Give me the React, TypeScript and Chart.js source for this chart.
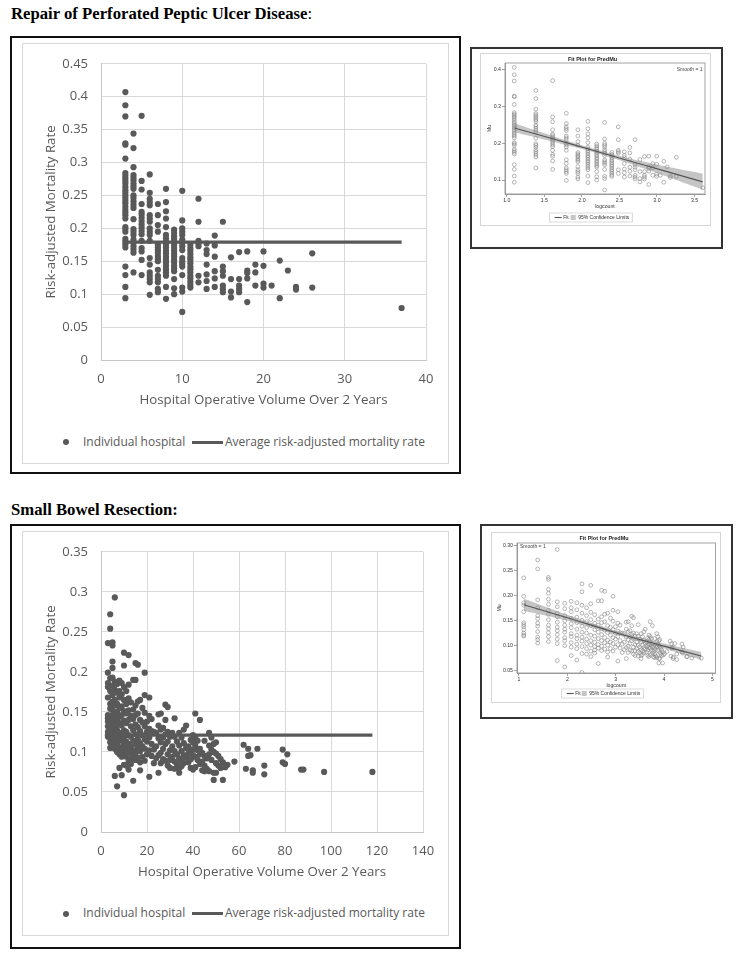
import React, { useEffect, useRef } from 'react';
import { Chart, registerables } from 'chart.js';

Chart.register(...registerables);

const FONT = "'Open Sans', sans-serif";
const SAS_FONT = "'Liberation Sans', Arial, sans-serif";
const INK = '#595959';

// ---------------- Repair of Perforated Peptic Ulcer Disease ----------------
const ulcerVolumes = [3, 4, 5, 6, 7, 8, 9, 10, 11, 12, 13, 14, 15, 16, 17, 18, 19, 20, 21, 22, 23, 24, 26, 37];
const ulcerRates = [
  [0.407, 0.387, 0.370, 0.329, 0.327, 0.306, 0.284, 0.280, 0.276, 0.272, 0.268, 0.263, 0.258, 0.254, 0.250, 0.246, 0.242, 0.238, 0.233, 0.228, 0.224, 0.220, 0.215, 0.202, 0.199, 0.195, 0.184, 0.180, 0.176, 0.171, 0.142, 0.129, 0.111, 0.094],
  [0.344, 0.322, 0.293, 0.281, 0.277, 0.273, 0.268, 0.264, 0.260, 0.250, 0.246, 0.241, 0.236, 0.231, 0.214, 0.199, 0.195, 0.190, 0.183, 0.178, 0.173, 0.168, 0.163, 0.133],
  [0.371, 0.272, 0.259, 0.237, 0.225, 0.221, 0.216, 0.211, 0.206, 0.201, 0.196, 0.191, 0.181, 0.170, 0.165, 0.152, 0.129],
  [0.282, 0.254, 0.245, 0.240, 0.235, 0.220, 0.215, 0.210, 0.200, 0.195, 0.190, 0.181, 0.155, 0.145, 0.133, 0.128, 0.123, 0.118, 0.099],
  [0.237, 0.220, 0.205, 0.195, 0.175, 0.171, 0.167, 0.163, 0.158, 0.154, 0.150, 0.137, 0.128, 0.123, 0.118, 0.108, 0.103],
  [0.260, 0.240, 0.226, 0.215, 0.202, 0.190, 0.185, 0.180, 0.176, 0.171, 0.166, 0.162, 0.157, 0.152, 0.148, 0.143, 0.138, 0.133, 0.128, 0.111, 0.093],
  [0.198, 0.193, 0.188, 0.184, 0.179, 0.175, 0.170, 0.166, 0.161, 0.157, 0.152, 0.148, 0.143, 0.139, 0.135, 0.123, 0.109, 0.100],
  [0.257, 0.212, 0.200, 0.195, 0.190, 0.183, 0.178, 0.173, 0.167, 0.155, 0.150, 0.146, 0.142, 0.129, 0.110, 0.104, 0.073],
  [0.175, 0.170, 0.166, 0.161, 0.156, 0.152, 0.147, 0.142, 0.138, 0.133, 0.128, 0.124, 0.119, 0.114, 0.110],
  [0.245, 0.210, 0.181, 0.177, 0.173, 0.128, 0.118],
  [0.177, 0.167, 0.161, 0.145, 0.130, 0.120, 0.108],
  [0.189, 0.174, 0.157, 0.135, 0.124, 0.111],
  [0.210, 0.142, 0.135, 0.128, 0.113, 0.108, 0.103],
  [0.156, 0.123, 0.104, 0.095],
  [0.164, 0.123, 0.113, 0.108, 0.103],
  [0.165, 0.136, 0.132, 0.124, 0.088],
  [0.145, 0.133, 0.113],
  [0.165, 0.143, 0.116, 0.110],
  [0.113],
  [0.151, 0.094],
  [0.136],
  [0.111, 0.107],
  [0.162, 0.110],
  [0.079],
];
const ulcerAverage = 0.179;
const ulcerAverageSpan = [3, 37];
const ulcerXTicks = [0, 10, 20, 30, 40];
const ulcerXLabels = ['0', '10', '20', '30', '40'];
const ulcerYTicks = [0, 0.05, 0.1, 0.15, 0.2, 0.25, 0.3, 0.35, 0.4, 0.45];
const ulcerYLabels = ['0', '0.05', '0.1', '0.15', '0.2', '0.25', '0.3', '0.35', '0.4', '0.45'];

// inset: Fit Plot for PredMu (logcount)
const ulcerFitX = [1.1, 1.6, 2.1, 2.6, 3.1, 3.61];
const ulcerFit = [0.242, 0.213, 0.184, 0.154, 0.125, 0.095];
const ulcerLower = [0.230, 0.205, 0.179, 0.147, 0.112, 0.074];
const ulcerUpper = [0.255, 0.221, 0.189, 0.161, 0.138, 0.117];
const ulcerLogRange = [0.975, 3.64];
const ulcerMuRange = [0.062, 0.419];
const ulcerLogTicks = [1, 1.5, 2, 2.5, 3, 3.5];
const ulcerLogLabels = ['1.0', '1.5', '2.0', '2.5', '3.0', '3.5'];
const ulcerMuTicks = [0.1, 0.2, 0.3, 0.4];
const ulcerMuLabels = ['0.1', '0.2', '0.3', '0.4'];

// ---------------- Small Bowel Resection ----------------
const bowelVolumes = [3, 4, 5, 6, 7, 8, 9, 10, 11, 12, 13, 14, 15, 16, 17, 18, 19, 20, 21, 22, 23, 24, 25, 26, 27, 28, 29, 30, 31, 32, 33, 34, 35, 36, 37, 38, 39, 40, 41, 42, 43, 44, 45, 46, 47, 48, 49, 50, 51, 52, 53, 54, 55, 58, 62, 63, 64, 65, 66, 68, 71, 79, 80, 81, 87, 88, 97, 118];
const bowelRates = [
  [0.236, 0.199, 0.186, 0.181, 0.168, 0.146, 0.142, 0.138, 0.132, 0.125, 0.121, 0.119],
  [0.272, 0.254, 0.192, 0.176, 0.160, 0.154, 0.145, 0.139, 0.128, 0.117, 0.112, 0.105],
  [0.237, 0.233, 0.213, 0.205, 0.193, 0.183, 0.171, 0.163, 0.152, 0.141, 0.134, 0.126, 0.118, 0.108],
  [0.293, 0.188, 0.178, 0.165, 0.158, 0.147, 0.137, 0.130, 0.122, 0.113, 0.104, 0.070],
  [0.185, 0.174, 0.160, 0.150, 0.141, 0.133, 0.127, 0.116, 0.110, 0.100, 0.057],
  [0.189, 0.176, 0.168, 0.155, 0.144, 0.136, 0.124, 0.118, 0.106, 0.097, 0.080],
  [0.186, 0.172, 0.157, 0.146, 0.133, 0.121, 0.114, 0.103, 0.094, 0.071],
  [0.224, 0.208, 0.181, 0.165, 0.151, 0.139, 0.127, 0.117, 0.109, 0.098, 0.084, 0.046],
  [0.176, 0.160, 0.148, 0.136, 0.125, 0.113, 0.104, 0.094, 0.083],
  [0.221, 0.184, 0.167, 0.152, 0.140, 0.121, 0.110, 0.101, 0.089, 0.078],
  [0.162, 0.145, 0.132, 0.119, 0.107, 0.098, 0.091, 0.085],
  [0.190, 0.153, 0.141, 0.127, 0.114, 0.102, 0.095, 0.064],
  [0.211, 0.190, 0.158, 0.146, 0.134, 0.122, 0.110, 0.099, 0.090],
  [0.209, 0.163, 0.148, 0.131, 0.116, 0.106, 0.093],
  [0.165, 0.140, 0.126, 0.111, 0.101, 0.087, 0.077],
  [0.155, 0.137, 0.121, 0.107, 0.094],
  [0.199, 0.171, 0.149, 0.132, 0.116, 0.104, 0.089],
  [0.138, 0.125, 0.113, 0.097],
  [0.168, 0.145, 0.129, 0.118, 0.102, 0.069],
  [0.141, 0.126, 0.110, 0.095],
  [0.125, 0.103, 0.086],
  [0.124, 0.107, 0.092],
  [0.147, 0.133, 0.117, 0.096, 0.074],
  [0.148, 0.128, 0.112, 0.099, 0.086],
  [0.130, 0.118, 0.104, 0.091],
  [0.159, 0.140, 0.122, 0.110, 0.089],
  [0.156, 0.125, 0.113, 0.097, 0.083],
  [0.119, 0.102, 0.090, 0.080],
  [0.124, 0.107, 0.094],
  [0.142, 0.119, 0.101, 0.088, 0.079],
  [0.113, 0.097, 0.085],
  [0.124, 0.108, 0.092, 0.080, 0.074],
  [0.118, 0.101, 0.089, 0.082],
  [0.128, 0.111, 0.096, 0.086],
  [0.133, 0.105, 0.093],
  [0.107, 0.098, 0.087],
  [0.115, 0.100, 0.091, 0.080],
  [0.121, 0.112, 0.103, 0.096, 0.078],
  [0.148, 0.118, 0.108, 0.094, 0.081],
  [0.114, 0.102, 0.090],
  [0.140, 0.104, 0.097, 0.085],
  [0.099, 0.088, 0.077],
  [0.114, 0.095, 0.083, 0.076],
  [0.092, 0.079],
  [0.124, 0.108, 0.097, 0.076],
  [0.118, 0.103, 0.090],
  [0.110, 0.100, 0.074, 0.065],
  [0.112, 0.098, 0.086, 0.074],
  [0.095, 0.083],
  [0.091, 0.080],
  [0.087, 0.065],
  [0.081],
  [0.084],
  [0.088],
  [0.109],
  [0.079],
  [0.104, 0.095],
  [0.096],
  [0.077, 0.074],
  [0.104],
  [0.083, 0.072],
  [0.103, 0.087],
  [0.085],
  [0.097],
  [0.078],
  [0.078],
  [0.075],
  [0.075],
];
const bowelAverage = 0.121;
const bowelAverageSpan = [3, 118];
const bowelXTicks = [0, 20, 40, 60, 80, 100, 120, 140];
const bowelXLabels = ['0', '20', '40', '60', '80', '100', '120', '140'];
const bowelYTicks = [0, 0.05, 0.1, 0.15, 0.2, 0.25, 0.3, 0.35];
const bowelYLabels = ['0', '0.05', '0.1', '0.15', '0.2', '0.25', '0.3', '0.35'];

const bowelFitX = [1.1, 2, 3, 4, 4.77];
const bowelFit = [0.182, 0.156, 0.126, 0.099, 0.079];
const bowelLower = [0.170, 0.150, 0.122, 0.094, 0.071];
const bowelUpper = [0.194, 0.162, 0.130, 0.104, 0.087];
const bowelLogRange = [0.959, 5.062];
const bowelMuRange = [0.045, 0.306];
const bowelLogTicks = [1, 2, 3, 4, 5];
const bowelLogLabels = ['1', '2', '3', '4', '5'];
const bowelMuTicks = [0.05, 0.1, 0.15, 0.2, 0.25, 0.3];
const bowelMuLabels = ['0.05', '0.10', '0.15', '0.20', '0.25', '0.30'];

function toPoints(volumes: number[], rates: number[][], log: boolean) {
  const pts: { x: number; y: number }[] = [];
  volumes.forEach((v, i) => rates[i].forEach((r) => pts.push({ x: log ? Math.log(v) : v, y: r })));
  return pts;
}

// ---------------- main Excel-style chart ----------------
function MainChart(p: any) {
  const ref = useRef<HTMLCanvasElement>(null);
  useEffect(() => {
    const chart = new Chart(ref.current as HTMLCanvasElement, {
      type: 'scatter',
      data: {
        datasets: [
          {
            type: 'line',
            label: 'Average risk-adjusted mortality rate',
            data: p.span.map((x: number) => ({ x, y: p.average })),
            borderColor: INK,
            borderWidth: 3.2,
            pointRadius: 0,
            fill: false,
            tension: 0,
          },
          {
            type: 'scatter',
            label: 'Individual hospital',
            data: toPoints(p.volumes, p.rates, false),
            backgroundColor: INK,
            borderColor: INK,
            borderWidth: 0,
            pointRadius: 3.1,
          },
        ],
      } as any,
      options: {
        responsive: false,
        animation: false,
        events: [],
        layout: { padding: { top: 16, right: p.padRight, bottom: 0, left: 0 } },
        plugins: { legend: { display: false }, tooltip: { enabled: false } },
        scales: {
          x: {
            type: 'linear',
            min: p.xTicks[0],
            max: p.xTicks[p.xTicks.length - 1],
            afterBuildTicks: (s: any) => { s.ticks = p.xTicks.map((value: number) => ({ value })); },
            afterFit: (s: any) => { s.height = 53; },
            grid: { color: '#d9d9d9', lineWidth: 1, drawTicks: false },
            border: { color: '#c6c6c6', width: 1 },
            ticks: {
              padding: 11, color: INK, maxRotation: 0, autoSkip: false,
              font: { family: FONT, size: 13 },
              callback: (_v: any, i: number) => p.xLabels[i],
            },
            title: {
              display: true, text: 'Hospital Operative Volume Over 2 Years', color: INK,
              font: { family: FONT, size: 13.3 }, padding: { top: 0, bottom: 5 },
            },
          },
          y: {
            type: 'linear',
            min: p.yTicks[0],
            max: p.yTicks[p.yTicks.length - 1],
            afterBuildTicks: (s: any) => { s.ticks = p.yTicks.map((value: number) => ({ value })); },
            afterFit: (s: any) => { s.width = 79; },
            grid: { color: '#d9d9d9', lineWidth: 1, drawTicks: false },
            border: { color: '#c6c6c6', width: 1 },
            ticks: {
              padding: 13, color: INK, autoSkip: false,
              font: { family: FONT, size: 13 },
              callback: (_v: any, i: number) => p.yLabels[i],
            },
            title: {
              display: true, text: 'Risk-adjusted Mortality Rate', color: INK,
              font: { family: FONT, size: 13.3 }, padding: { top: 21, bottom: 0 },
            },
          },
        },
      } as any,
    });
    return () => chart.destroy();
  }, []);
  return (
    <canvas
      ref={ref}
      width={426}
      height={p.height}
      style={{ position: 'absolute', left: 22, top: p.top, width: 426, height: p.height }}
    />
  );
}

function MainLegend({ y }: { y: number }) {
  const text: React.CSSProperties = {
    position: 'absolute', top: y - 9.5, fontFamily: FONT, fontSize: 12, lineHeight: '18px',
    color: INK, whiteSpace: 'nowrap',
  };
  return (
    <>
      <div style={{ position: 'absolute', left: 63, top: y - 3, width: 6, height: 6, borderRadius: 3, background: INK }} />
      <div style={{ ...text, left: 83 }}>Individual hospital</div>
      <div style={{ position: 'absolute', left: 192, top: y - 1.5, width: 31, height: 3, background: INK }} />
      <div style={{ ...text, left: 225 }}>Average risk-adjusted mortality rate</div>
    </>
  );
}

// ---------------- SAS-style inset fit plot ----------------
const sasPlugin = {
  id: 'sasFrame',
  afterDraw(chart: any, _args: any, opts: any) {
    const { ctx, chartArea: a } = chart;
    ctx.save();
    ctx.strokeStyle = '#8c8c8c';
    ctx.lineWidth = 0.8;
    ctx.strokeRect(a.left, a.top, a.right - a.left, a.bottom - a.top);
    if (opts && opts.note) {
      ctx.font = `5px ${SAS_FONT}`;
      ctx.fillStyle = '#444';
      ctx.textBaseline = 'middle';
      if (opts.noteAlign === 'right') {
        ctx.textAlign = 'right';
        ctx.fillText(opts.note, a.right - 2.5, a.top + opts.noteDy);
      } else {
        ctx.textAlign = 'left';
        ctx.fillText(opts.note, a.left + 3, a.top + opts.noteDy);
      }
    }
    const boxes = chart.legend && chart.legend.legendHitBoxes;
    if (boxes && boxes.length) {
      const l = Math.min(...boxes.map((b: any) => b.left)) - 6;
      const r = Math.max(...boxes.map((b: any) => b.left + b.width)) + 3;
      const t = Math.min(...boxes.map((b: any) => b.top)) - 2;
      const btm = Math.max(...boxes.map((b: any) => b.top + b.height)) + 2;
      ctx.strokeStyle = '#c4c4c4';
      ctx.lineWidth = 0.6;
      ctx.strokeRect(l, t, r - l, btm - t);
    }
    ctx.restore();
  },
};

function InsetChart(p: any) {
  const ref = useRef<HTMLCanvasElement>(null);
  useEffect(() => {
    const tickFont = { family: SAS_FONT, size: 5.2 };
    const chart = new Chart(ref.current as HTMLCanvasElement, {
      type: 'scatter',
      data: {
        datasets: [
          {
            type: 'scatter',
            label: 'PredMu',
            data: toPoints(p.volumes, p.rates, true),
            backgroundColor: 'rgba(0,0,0,0)',
            borderColor: '#858585',
            borderWidth: 0.6,
            pointRadius: 1.9,
            order: 1,
          },
          {
            type: 'line',
            label: 'Fit',
            data: p.fitX.map((x: number, i: number) => ({ x, y: p.fit[i] })),
            borderColor: '#555',
            backgroundColor: '#555',
            borderWidth: 1.1,
            pointRadius: 0,
            pointStyle: 'line',
            tension: 0.3,
            fill: false,
            order: 0,
          },
          {
            type: 'line',
            label: 'lower',
            data: p.fitX.map((x: number, i: number) => ({ x, y: p.lower[i] })),
            borderColor: 'rgba(0,0,0,0)',
            borderWidth: 0,
            pointRadius: 0,
            tension: 0.3,
            fill: false,
            order: 2,
          },
          {
            type: 'line',
            label: '95% Confidence Limits',
            data: p.fitX.map((x: number, i: number) => ({ x, y: p.upper[i] })),
            borderColor: 'rgba(0,0,0,0)',
            backgroundColor: 'rgba(150,150,150,0.55)',
            borderWidth: 0,
            pointRadius: 0,
            pointStyle: 'rect',
            tension: 0.3,
            fill: '-1',
            order: 3,
          },
        ],
      } as any,
      options: {
        responsive: false,
        animation: false,
        events: [],
        layout: { padding: { top: 0, right: p.padRight, bottom: 0, left: 0 } },
        plugins: {
          tooltip: { enabled: false },
          title: {
            display: true, text: 'Fit Plot for PredMu', color: '#222',
            font: { family: SAS_FONT, size: 5.5, weight: 'bold' },
            padding: { top: p.titleTop, bottom: p.titleBottom },
          },
          legend: {
            display: true,
            position: 'bottom',
            labels: {
              usePointStyle: true,
              boxHeight: 5,
              padding: p.legendPad,
              color: '#333',
              font: { family: SAS_FONT, size: 5 },
              filter: (item: any) => item.text === 'Fit' || item.text === '95% Confidence Limits',
            },
          },
          sasFrame: { note: 'Smooth = 1', noteAlign: p.noteAlign, noteDy: p.noteDy },
        },
        scales: {
          x: {
            type: 'linear',
            min: p.xRange[0],
            max: p.xRange[1],
            afterBuildTicks: (s: any) => { s.ticks = p.xTicks.map((value: number) => ({ value })); },
            afterFit: (s: any) => { s.height = p.xAxisHeight; },
            grid: { display: true, drawOnChartArea: false, drawTicks: true, tickLength: 3, color: '#666', lineWidth: 0.6 },
            border: { display: true, color: '#8c8c8c', width: 0.8 },
            ticks: { padding: 0.5, color: '#333', font: tickFont, maxRotation: 0, autoSkip: false, callback: (_v: any, i: number) => p.xLabels[i] },
            title: { display: true, text: 'logcount', color: '#333', font: { family: SAS_FONT, size: 5.2 }, padding: { top: 0, bottom: p.xTitleBottom } },
          },
          y: {
            type: 'linear',
            min: p.yRange[0],
            max: p.yRange[1],
            afterBuildTicks: (s: any) => { s.ticks = p.yTicks.map((value: number) => ({ value })); },
            afterFit: (s: any) => { s.width = p.yAxisWidth; },
            grid: { display: true, drawOnChartArea: false, drawTicks: true, tickLength: 3, color: '#666', lineWidth: 0.6 },
            border: { display: true, color: '#8c8c8c', width: 0.8 },
            ticks: { padding: 1, color: '#333', font: tickFont, autoSkip: false, callback: (_v: any, i: number) => p.yLabels[i] },
            title: { display: true, text: 'Mu', color: '#333', font: { family: SAS_FONT, size: 5.2 }, padding: { top: p.yTitleTop, bottom: 0 } },
          },
        },
      } as any,
      plugins: [sasPlugin as any],
    });
    return () => chart.destroy();
  }, []);
  return (
    <canvas
      ref={ref}
      width={p.width}
      height={p.height}
      style={{ position: 'absolute', left: p.left, top: p.top, width: p.width, height: p.height }}
    />
  );
}

function Box({ left, top, right, bottom, border }: any) {
  return (
    <div
      style={{
        position: 'absolute', left, top, width: right - left, height: bottom - top,
        border, boxSizing: 'border-box', background: 'transparent',
      }}
    />
  );
}

const titleStyle: React.CSSProperties = {
  position: 'absolute', left: 11, fontFamily: "'Liberation Serif', 'Times New Roman', serif",
  fontWeight: 'bold', fontSize: 16.7, lineHeight: '17px', color: '#000', whiteSpace: 'nowrap',
};

export default function App() {
  return (
    <div style={{ position: 'absolute', left: 0, top: 0, width: 742, height: 960, background: '#fff', overflow: 'hidden' }}>
      {/* ---------- Section 1 ---------- */}
      <div style={{ ...titleStyle, top: 5 }}>
        Repair of Perforated Peptic Ulcer Disease<span style={{ fontWeight: 'normal' }}>:</span>
      </div>
      <Box left={10} top={36} right={461} bottom={474} border="2px solid #111" />
      <Box left={22} top={43} right={449} bottom={464} border="1px solid #d9d9d9" />
      <MainChart
        top={43}
        height={370}
        padRight={22}
        volumes={ulcerVolumes}
        rates={ulcerRates}
        average={ulcerAverage}
        span={ulcerAverageSpan}
        xTicks={ulcerXTicks}
        xLabels={ulcerXLabels}
        yTicks={ulcerYTicks}
        yLabels={ulcerYLabels}
      />
      <MainLegend y={442} />

      <Box left={470} top={47} right={723} bottom={249} border="2px solid #333" />
      <Box left={480} top={53} right={711} bottom={226} border="1px solid #d6d6d6" />
      <InsetChart
        left={480} top={53} width={230} height={177}
        padRight={5} titleTop={3.4} titleBottom={0}
        xAxisHeight={19} yAxisWidth={25} yTitleTop={6.5} xTitleBottom={3} legendPad={2}
        noteAlign="right" noteDy={7}
        volumes={ulcerVolumes} rates={ulcerRates}
        fitX={ulcerFitX} fit={ulcerFit} lower={ulcerLower} upper={ulcerUpper}
        xRange={ulcerLogRange} yRange={ulcerMuRange}
        xTicks={ulcerLogTicks} xLabels={ulcerLogLabels}
        yTicks={ulcerMuTicks} yLabels={ulcerMuLabels}
      />

      {/* ---------- Section 2 ---------- */}
      <div style={{ ...titleStyle, top: 501 }}>Small Bowel Resection:</div>
      <Box left={10} top={524} right={461} bottom={949} border="2px solid #111" />
      <Box left={22} top={531} right={449} bottom={936} border="1px solid #d9d9d9" />
      <MainChart
        top={531}
        height={354}
        padRight={25}
        volumes={bowelVolumes}
        rates={bowelRates}
        average={bowelAverage}
        span={bowelAverageSpan}
        xTicks={bowelXTicks}
        xLabels={bowelXLabels}
        yTicks={bowelYTicks}
        yLabels={bowelYLabels}
      />
      <MainLegend y={913.5} />

      <Box left={480} top={524} right={733} bottom={719} border="2px solid #333" />
      <Box left={491} top={532} right={721} bottom={703} border="1px solid #d6d6d6" />
      <InsetChart
        left={491} top={532} width={229} height={174}
        padRight={3} titleTop={2.7} titleBottom={1.7}
        xAxisHeight={17} yAxisWidth={26} yTitleTop={5.5} xTitleBottom={1} legendPad={1}
        noteAlign="left" noteDy={3.5}
        volumes={bowelVolumes} rates={bowelRates}
        fitX={bowelFitX} fit={bowelFit} lower={bowelLower} upper={bowelUpper}
        xRange={bowelLogRange} yRange={bowelMuRange}
        xTicks={bowelLogTicks} xLabels={bowelLogLabels}
        yTicks={bowelMuTicks} yLabels={bowelMuLabels}
      />
    </div>
  );
}
